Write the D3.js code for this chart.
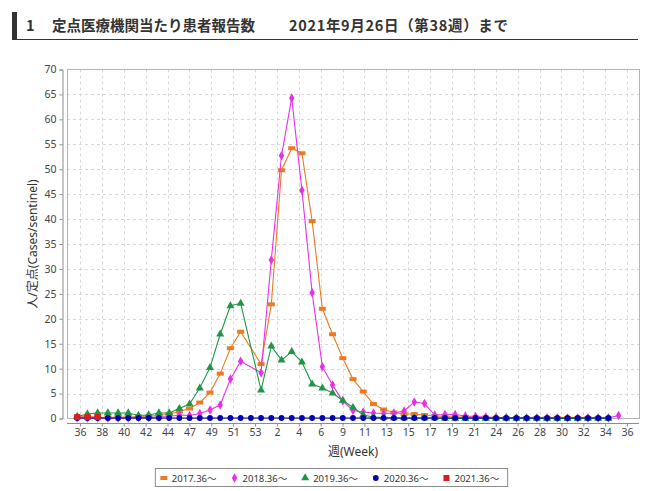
<!DOCTYPE html>
<html>
<head>
<meta charset="utf-8">
<script src="https://cdn.jsdelivr.net/npm/d3@7"></script>
<style>
  html, body { margin: 0; padding: 0; background: #fff; }
  svg { display: block; font-family: "Noto Sans", "Noto Sans CJK JP", sans-serif; }
</style>
</head>
<body>
<div id="chart"></div>
<script>
// week categories on the x axis (36 .. 53, 1 .. 36)
const weeks = [36, 37, 38, 39, 40, 41, 42, 43, 44, 45, 46, 47, 48, 49, 50, 51, 52, 53,
  1, 2, 3, 4, 5, 6, 7, 8, 9, 10, 11, 12, 13, 14, 15, 16, 17, 18, 19, 20,
  21, 22, 23, 24, 25, 26, 27, 28, 29, 30, 31, 32, 33, 34, 35, 36];

const tickLabels = ["36", "38", "40", "42", "44", "47", "49", "51", "53", "2", "4", "6", "9",
  "11", "13", "15", "17", "19", "21", "24", "26", "28", "30", "32", "34", "36"];

const yTicks = [0, 5, 10, 15, 20, 25, 30, 35, 40, 45, 50, 55, 60, 65, 70];

// values per week category (null = no such week that season)
const s2017 = [0.2, 0.2, 0.2, 0.2, 0.3, 0.3, 0.4, 0.5, 0.6, 0.9, 1.4, 2.0, 3.2, 5.2, 9.0, 14.1, 17.4, null,
  10.9, 22.9, 49.8, 54.2, 53.2, 39.6, 22.0, 16.9, 12.1, 7.9, 5.4, 2.9, 1.8, 1.2, 0.9, 0.9, 0.7, 0.5,
  0.4, 0.3, 0.3, 0.2, 0.2, 0.1, 0.1, 0.1, 0.1, 0.1, 0.1, 0.1, 0.1, 0.1, 0.1, 0.1, 0.1, null];
const s2018 = [0.1, 0.1, 0.1, 0.1, 0.1, 0.1, 0.2, 0.2, 0.3, 0.4, 0.7, 0.6, 1.0, 1.7, 2.7, 7.9, 11.5, null,
  9.2, 31.8, 52.7, 64.3, 45.8, 25.2, 10.4, 6.7, 3.5, 1.6, 1.3, 1.1, 1.0, 1.1, 1.5, 3.3, 3.0, 0.7,
  0.8, 0.8, 0.5, 0.4, 0.3, 0.2, 0.2, 0.1, 0.1, 0.1, 0.1, 0.1, 0.1, 0.1, 0.1, 0.1, 0.1, 0.6];
const s2019 = [0.4, 0.9, 1.1, 1.1, 1.1, 1.1, 0.6, 0.7, 1.1, 1.1, 2.0, 2.9, 6.1, 10.2, 16.9, 22.6, 23.1, null,
  5.7, 14.5, 11.7, 13.4, 11.3, 6.9, 6.1, 5.1, 3.6, 2.2, 0.7, 0.3, 0.2, 0.1, 0.1, 0.1, 0.1, 0.1,
  0.0, 0.0, 0.0, 0.0, 0.0, 0.0, 0.0, 0.0, 0.0, 0.0, 0.0, 0.0, 0.0, 0.0, 0.0, 0.0, 0.0, null];
const s2020 = [0.1, 0.1, 0.1, 0.1, 0.1, 0.1, 0.1, 0.1, 0.1, 0.1, 0.1, 0.1, 0.1, 0.1, 0.1, 0.1, 0.1, 0.1,
  0.1, 0.1, 0.1, 0.1, 0.1, 0.1, 0.1, 0.1, 0.1, 0.1, 0.1, 0.1, 0.1, 0.1, 0.1, 0.1, 0.1, 0.1,
  0.1, 0.1, 0.1, 0.1, 0.1, 0.1, 0.1, 0.1, 0.1, 0.1, 0.1, 0.1, 0.1, 0.1, 0.1, 0.1, 0.1];
const s2021 = [0.3, 0.3, 0.3];

const seriesNames = ["2017.36～", "2018.36～", "2019.36～", "2020.36～", "2021.36～"];
const seriesColors = ["#ec7a22", "#e632e6", "#1e9646", "#0000b4", "#dd1c1c"];
const seriesShapes = ["dash", "diamond", "triangle", "circle", "square"];
const seriesValues = [s2017, s2018, s2019, s2020, s2021];

const width = 660, height = 491;
const frame = { left: 67, right: 639, top: 69.5, bottom: 418.5 };

const svg = d3.select("#chart").append("svg")
  .attr("width", width)
  .attr("height", height);

svg.append("rect").attr("width", width).attr("height", height).attr("fill", "#fff");

// title
const title = svg.append("g");
title.append("rect").attr("x", 12).attr("y", 12).attr("width", 5).attr("height", 28).attr("fill", "#333");
title.append("line").attr("x1", 12).attr("x2", 638).attr("y1", 39.5).attr("y2", 39.5)
  .attr("stroke", "#333").attr("stroke-width", 1.2);
title.selectAll("text")
  .data([[26, "1", null], [52, "定点医療機関当たり患者報告数", 203], [289, "2021年9月26日（第38週）まで", 219]])
  .enter().append("text")
  .attr("x", (d) => d[0])
  .attr("y", 30.5)
  .attr("font-family", "'Noto Sans CJK JP', sans-serif")
  .attr("font-weight", "bold")
  .attr("font-size", "14.5px")
  .attr("fill", "#333")
  .each(function (d) {
    if (d[2]) d3.select(this).attr("textLength", d[2]).attr("lengthAdjust", "spacing");
  })
  .text((d) => d[1]);

const x = d3.scaleLinear().domain([-1, 55]).range([frame.left, frame.right]);
const y = d3.scaleLinear().domain([0, 70]).range([frame.bottom, frame.top]);

// tick labels sit evenly spaced across the categories
const tickPos = tickLabels.map((_, j) => 0.27 + j * (53.83 - 0.27) / (tickLabels.length - 1));

// grid
const grid = svg.append("g").attr("stroke", "#d8d8d8").attr("stroke-dasharray", "3,3").attr("stroke-width", 1);
grid.selectAll(".gy").data(yTicks.slice(1, -1)).enter().append("line")
  .attr("x1", frame.left).attr("x2", frame.right)
  .attr("y1", (d) => Math.round(y(d)) + 0.5).attr("y2", (d) => Math.round(y(d)) + 0.5);
grid.selectAll(".gx").data(tickPos).enter().append("line")
  .attr("y1", frame.top).attr("y2", frame.bottom)
  .attr("x1", (d) => Math.round(x(d)) + 0.5).attr("x2", (d) => Math.round(x(d)) + 0.5);

svg.append("rect")
  .attr("x", frame.left + 0.5).attr("y", frame.top)
  .attr("width", frame.right - frame.left).attr("height", frame.bottom - frame.top)
  .attr("fill", "none").attr("stroke", "#b4b4b4");

// y axis
const yAxis = svg.append("g").attr("transform", "translate(62.5,0)")
  .call(d3.axisLeft(y).tickValues(yTicks).tickSize(3).tickPadding(3));
yAxis.select(".domain").attr("stroke", "#8c8c8c");
yAxis.selectAll(".tick line").attr("stroke", "#8c8c8c");
yAxis.selectAll(".tick text").attr("font-size", "10.5px").attr("fill", "#444").attr("font-family", "'Noto Sans', sans-serif");

// x axis
const xAxis = svg.append("g").attr("transform", "translate(0,423.5)")
  .call(d3.axisBottom(x).tickValues(tickPos).tickFormat((d, i) => tickLabels[i]).tickSize(3).tickPadding(2).tickSizeOuter(0));
xAxis.select(".domain").attr("stroke", "#8c8c8c").attr("d", `M${frame.left},0H${frame.right}`);
xAxis.selectAll(".tick line").attr("stroke", "#8c8c8c");
xAxis.selectAll(".tick text").attr("font-size", "10.5px").attr("fill", "#444").attr("font-family", "'Noto Sans', sans-serif");

// axis titles
svg.append("text")
  .attr("x", (frame.left + frame.right) / 2).attr("y", 456)
  .attr("text-anchor", "middle").attr("font-size", "12px").attr("fill", "#333")
  .text("週(Week)");
svg.append("text")
  .attr("transform", `translate(37,${(frame.top + frame.bottom) / 2}) rotate(-90)`)
  .attr("text-anchor", "middle").attr("font-size", "12px").attr("fill", "#333")
  .text("人/定点(Cases/sentinel)");

function drawMarker(g, shape, color) {
  if (shape === "dash") {
    g.append("rect").attr("x", -3.5).attr("y", -2).attr("width", 7).attr("height", 4).attr("fill", color);
  } else {
    const type = { diamond: d3.symbolDiamond, triangle: d3.symbolTriangle, circle: d3.symbolCircle, square: d3.symbolSquare }[shape];
    const size = { diamond: 26, triangle: 28, circle: 26, square: 36 }[shape];
    g.append("path").attr("d", d3.symbol().type(type).size(size)()).attr("fill", color);
  }
}

const line = d3.line().x((d) => x(d.i)).y((d) => y(d.v));

seriesValues.forEach((vals, si) => {
  const pts = vals.map((v, i) => ({ i, v })).filter((d) => d.v !== null);
  const g = svg.append("g");
  g.append("path")
    .attr("d", line(pts))
    .attr("fill", "none")
    .attr("stroke", seriesColors[si])
    .attr("stroke-width", 1.1);
  g.selectAll("g.pt").data(pts).enter().append("g")
    .attr("class", "pt")
    .attr("transform", (d) => `translate(${x(d.i)},${y(d.v)})`)
    .each(function () { drawMarker(d3.select(this), seriesShapes[si], seriesColors[si]); });
});

// legend
const legend = svg.append("g");
const box = legend.append("rect").attr("fill", "#fff").attr("stroke", "#8c8c8c");
const gap = 18;
let cx = 0;
const offsets = [];
const items = legend.selectAll("g.item").data(seriesNames).enter().append("g").attr("class", "item");
items.each(function (name, i) {
  const it = d3.select(this);
  drawMarker(it.append("g"), seriesShapes[i], seriesColors[i]);
  const t = it.append("text").attr("x", 8).attr("y", 3.5).attr("font-size", "9.5px").attr("fill", "#333").text(name);
  offsets.push(cx);
  cx += 8 + t.node().getComputedTextLength() + gap;
});
cx -= gap;
const lx0 = 331.5 - cx / 2;
items.attr("transform", (d, i) => `translate(${lx0 + offsets[i]},478)`);
box.attr("x", lx0 - 8.5).attr("y", 468.5).attr("width", cx + 17).attr("height", 18);
</script>
</body>
</html>
